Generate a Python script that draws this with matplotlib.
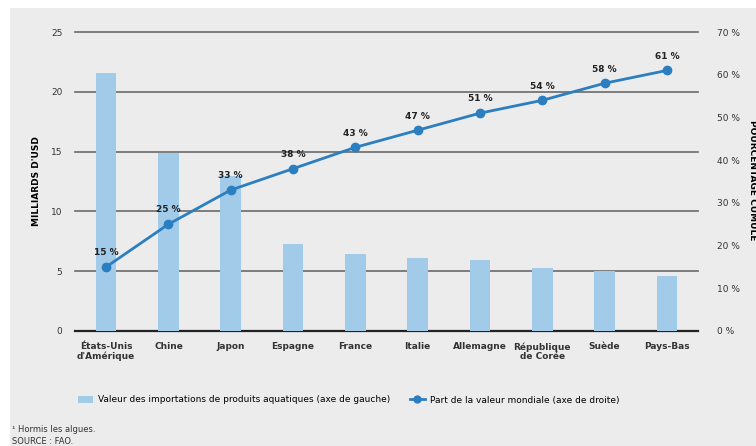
import matplotlib.pyplot as plt
from matplotlib.lines import Line2D
from matplotlib.patches import Patch, Rectangle

plt.rcParams['font.family'] = ['Liberation Sans Narrow', 'DejaVu Sans']

pays = ["États-Unis\nd'Amérique", "Chine", "Japon", "Espagne", "France", "Italie",
        "Allemagne", "République\nde Corée", "Suède", "Pays-Bas"]
importations = [21.6, 14.9, 13.0, 7.3, 6.4, 6.1, 5.9, 5.3, 5.0, 4.6]   # milliards d'USD
part_cumulee = [15, 25, 33, 38, 43, 47, 51, 54, 58, 61]               # %

gauche_ticks = [0, 5, 10, 15, 20, 25]
droite_ticks = [0, 10, 20, 30, 40, 50, 60, 70]

bar_color = '#a2cbea'
line_color = '#2b7fc1'
bg = '#ececec'
grid_color = '#6a6a6a'

fig = plt.figure(figsize=(7.56, 4.46), dpi=100)
fig.patch.set_facecolor('white')
fig.add_artist(Rectangle((10 / 756, 0), 1, 1 - 8 / 446, transform=fig.transFigure,
                         facecolor=bg, edgecolor='none', zorder=-10))

ax = fig.add_axes([75 / 756, 1 - 331 / 446, (698 - 75) / 756, (331 - 32) / 446])
ax.set_facecolor('none')
x = list(range(len(pays)))
ax.bar(x, importations, width=0.33, color=bar_color, zorder=2)
ax.set_xlim(-0.5, len(pays) - 0.5)
ax.set_ylim(0, 25)
ax.set_yticks(gauche_ticks)
for t in gauche_ticks:
    ax.axhline(t, color='#222222' if t == 0 else grid_color,
               lw=1.6 if t == 0 else 1.2, zorder=1, clip_on=False)
for s in ax.spines.values():
    s.set_visible(False)
ax.tick_params(axis='y', length=0, pad=9, labelsize=6.5, labelcolor='#333333')
ax.tick_params(axis='x', length=0, pad=8)
ax.set_xticks(x)
ax.set_xticklabels(pays, fontsize=6.5, fontweight='bold', color='#333333',
                   linespacing=1.0, va='top')
ax.set_ylabel("MILLIARDS D'USD", fontsize=6.5, fontweight='bold', labelpad=7)

ax2 = ax.twinx()
ax2.set_ylim(0, 70)
ax2.set_yticks(droite_ticks)
ax2.set_yticklabels([f"{t} %" for t in droite_ticks])
ax2.tick_params(axis='y', length=0, pad=14, labelsize=6.5, labelcolor='#333333')
for s in ax2.spines.values():
    s.set_visible(False)
ax2.plot(x, part_cumulee, color=line_color, lw=2, marker='o', markersize=6, zorder=4)
for xi, v in zip(x, part_cumulee):
    ax2.annotate(f"{v} %", (xi, v), xytext=(0, 7), textcoords='offset points',
                 ha='center', va='bottom', fontsize=6.5, fontweight='bold', color='#222222')

fig.text(752 / 756, 1 - 180 / 446, "POURCENTAGE CUMULÉ", rotation=270, ha='center',
         va='center', fontsize=6.5, fontweight='bold')

handles = [Patch(facecolor=bar_color, edgecolor='none'),
           Line2D([0], [0], color=line_color, lw=2, marker='o', markersize=5)]
labels = ["Valeur des importations de produits aquatiques (axe de gauche)",
          "Part de la valeur mondiale (axe de droite)"]
fig.legend(handles, labels, loc='center left', bbox_to_anchor=(70 / 756, 1 - 400 / 446),
           ncol=2, frameon=False, fontsize=6.5, columnspacing=2.2, handlelength=1.6,
           handletextpad=0.6)

fig.text(12 / 756, 1 - 430 / 446, "¹ Hormis les algues.", fontsize=6, va='center', color='#333333')
fig.text(12 / 756, 1 - 442 / 446, "SOURCE : FAO.", fontsize=6, va='center', color='#333333')

fig.savefig('out.png', dpi=100, facecolor=fig.get_facecolor())
